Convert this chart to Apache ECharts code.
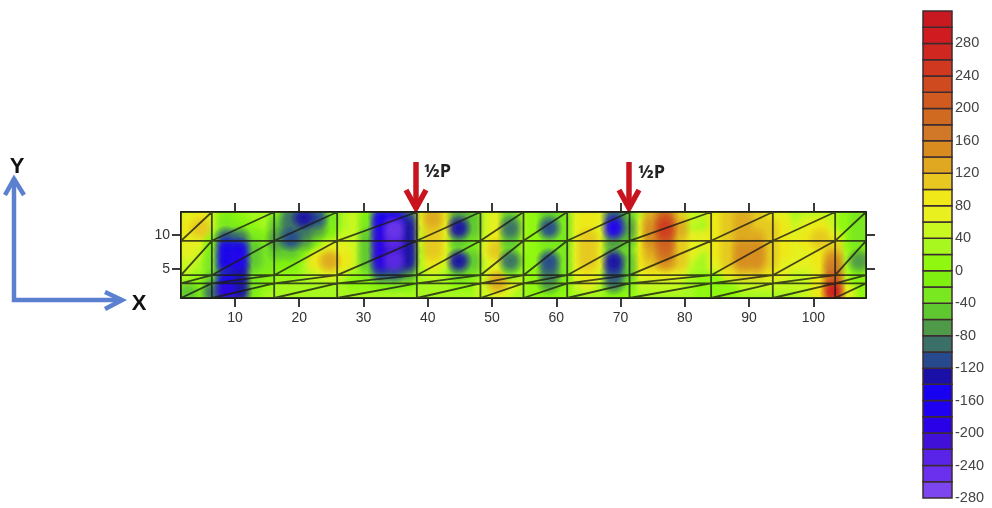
<!DOCTYPE html>
<html><head><meta charset="utf-8">
<style>html,body{margin:0;padding:0;background:#fff}#c{width:992px;height:508px}</style>
<script src="https://cdn.jsdelivr.net/npm/echarts@6/dist/echarts.min.js"></script>
</head><body><div id="c"></div>
<script>
// Field values, read row by row from left to right (one value per 2.01 x-units)
const rowY = [12.6, 11.0, 9.4, 7.8, 6.2, 4.7, 3.1, 1.5];
const row126 = [70,90,40,-20,0,20,30,-40,-100,-125, -110,-40,20,40,-20,-150,-170,-110,60,120, 80,-70,-60,50,60,-60,20,10,-50,-30, 60,80,60,-110,-60,50,130,200,110,50, 40,80,110,120,110,90,70,30,40,50, 40,0,-30];
const row110 = [90,100,50,-30,-10,10,30,-50,-90,-100, -70,-20,30,40,-30,-170,-250,-130,40,110, 60,-130,-60,50,70,-90,20,0,-110,-40, 60,90,50,-170,-80,60,150,240,120,30, 20,80,100,120,110,100,80,50,60,80, 50,0,-40];
const row094 = [70,60,0,-110,-100,-30,-10,-70,-115,-70, -10,20,50,50,-50,-190,-230,-130,40,110, 70,-60,-40,50,90,-50,20,10,-40,-30, 70,110,70,-80,-50,70,150,210,110,70, 60,90,110,130,130,100,80,70,80,100, 60,10,-30];
const row078 = [60,50,-10,-150,-160,-60,-40,-50,-60,-10, 40,70,60,40,-50,-190,-210,-130,30,100, 60,-40,-40,60,100,-40,20,10,-20,-30, 70,110,70,-60,-40,80,130,180,110,60, 40,80,110,150,150,100,80,70,70,90, 110,20,-20];
const row062 = [50,30,-30,-160,-170,-60,-30,-20,-20,30, 90,120,80,40,-60,-200,-230,-140,30,80, 40,-130,-50,50,70,-90,10,0,-110,-30, 70,100,60,-140,-60,80,110,140,100,40, 20,70,100,140,150,100,70,60,60,90, 150,20,-70];
const row047 = [40,20,-40,-120,-130,-40,-10,0,10,30, 50,60,50,30,-40,-110,-120,-80,30,50, 30,-60,-30,40,60,-40,20,10,-100,-30, 70,90,50,-110,-50,70,80,90,70,30, 20,50,80,100,100,80,60,50,50,70, 170,30,-20];
const row031 = [20,10,-50,-160,-130,-30,10,20,20,30, 20,20,20,10,0,-20,-30,-20,20,30, 30,10,10,50,120,60,20,0,-80,-20, 50,70,40,-90,-30,50,50,50,40,20, 10,10,30,50,50,50,40,40,50,80, 200,40,0];
const row015 = [-50,-20,-90,-190,-140,-20,20,30,30,30, 20,20,30,30,30,30,30,30,30,30, 20,20,20,50,60,40,20,10,-10,0, 20,30,20,-10,0,20,30,30,30,20, 0,0,10,20,30,30,30,30,40,90, 280,60,10];
const fieldRows = [row126,row110,row094,row078,row062,row047,row031,row015];

const xTicks = [10,20,30,40,50,60,70,80,90,100];
const yTicks = [5,10];
const xMesh = [1.6,6.4,16.1,25.9,38.3,48.2,54.9,61.7,71.4,84.1,93.7,103.4,108.2];
const yMesh = [0.74,2.9,4.1,9.16,13.4];

const bandMin = -280, bandStep = 20;
const bandColors = ['#7d45f0','#6a30ee','#5a24e8','#4010d8','#2a00e8','#2000f0','#1800f0','#1a10a8','#274a8e','#3a7068',
 '#4f9a48','#5fc830','#7ae820','#80f010','#90f810','#a8f820','#c8f820','#e8f020','#f0e818','#e8c820',
 '#e0a820','#d88c20','#d07828','#d06a20','#d05a20','#d04a20','#d03820','#d02820','#d01c20','#c81820'];

const xStart = 1.6, xStep = 2.01;
function colorOf(v){
  const k = Math.max(0, Math.min(bandColors.length-1, Math.floor((v-bandMin)/bandStep)));
  return bandColors[k];
}
function rgba(hex,a){
  const n=parseInt(hex.slice(1),16);
  return 'rgba('+(n>>16)+','+((n>>8)&255)+','+(n&255)+','+a+')';
}
const cells = [];
fieldRows.forEach((r,j)=>r.forEach((v,i)=>cells.push([xStart+(i+0.5)*xStep, rowY[j], v])));
cells.sort((a,b)=>Math.abs(a[2]-30)-Math.abs(b[2]-30));
const bands = bandColors.map((c,i)=>[bandMin+i*bandStep, bandMin+(i+1)*bandStep]);

const mesh = [];
yMesh.forEach(y=>{mesh.push([xMesh[0],y],[xMesh[xMesh.length-1],y],[null,null]);});
xMesh.forEach(x=>{mesh.push([x,yMesh[0]],[x,yMesh[yMesh.length-1]],[null,null]);});
for(let a=0;a<xMesh.length-1;a++)for(let b=0;b<yMesh.length-1;b++){
  mesh.push([xMesh[a],yMesh[b]],[xMesh[a+1],yMesh[b+1]],[null,null]);
}

const tickStyle = {show:true,length:9,lineStyle:{color:'#3a3a3a',width:2}};
const font = 'Liberation Sans';
const BLUE='#5b80cf', RED='#c8141e';
function redArrow(x){return [
  {type:'line',shape:{x1:x,y1:162,x2:x,y2:204},style:{stroke:RED,lineWidth:5.5}},
  {type:'polyline',shape:{points:[[x-10,190],[x,208],[x+10,190]]},style:{stroke:RED,fill:null,lineWidth:5.5}}
];}
const chart = echarts.init(document.getElementById('c'));
chart.setOption({
  animation:false,backgroundColor:'#fff',
  grid:[{left:181,top:212,width:685,height:86,show:true,backgroundColor:'#90f810',borderWidth:0},{left:923,top:11,width:29,height:487}],
  xAxis:[
    {gridIndex:0,type:'value',min:1.6,max:108.2,position:'bottom',splitLine:{show:false},
     axisLine:{show:true,onZero:false,lineStyle:{color:'#222',width:2}},
     axisTick:{...tickStyle,customValues:xTicks},
     axisLabel:{customValues:xTicks,color:'#333',fontSize:14,fontFamily:font,margin:13}},
    {gridIndex:0,type:'value',min:1.6,max:108.2,position:'top',splitLine:{show:false},
     axisLine:{show:true,onZero:false,lineStyle:{color:'#222',width:2}},
     axisTick:{...tickStyle,customValues:xTicks},axisLabel:{show:false}},
    {gridIndex:1,type:'value',min:0,max:1,show:false}
  ],
  yAxis:[
    {gridIndex:0,type:'value',min:0.74,max:13.4,position:'left',splitLine:{show:false},
     axisLine:{show:true,onZero:false,lineStyle:{color:'#222',width:2}},
     axisTick:{...tickStyle,customValues:yTicks},
     axisLabel:{customValues:yTicks,color:'#333',fontSize:14,fontFamily:font,margin:11}},
    {gridIndex:0,type:'value',min:0.74,max:13.4,position:'right',splitLine:{show:false},
     axisLine:{show:true,onZero:false,lineStyle:{color:'#222',width:2}},
     axisTick:{...tickStyle,customValues:yTicks},axisLabel:{show:false}},
    {gridIndex:1,type:'value',min:-280,max:320,interval:40,position:'right',splitLine:{show:false},
     axisLine:{show:false},axisTick:{show:false},
     axisLabel:{color:'#444',fontSize:14.5,fontFamily:font,margin:3,showMaxLabel:false,padding:[2,0,0,0],
       formatter:v=>v===320?'':String(v)}}
  ],
  series:[
    {type:'custom',xAxisIndex:0,yAxisIndex:0,clip:true,silent:true,z:1,data:cells,
     encode:{x:0,y:1},
     renderItem:(p,api)=>{
       const c=api.coord([api.value(0),api.value(1)]);
       const col=colorOf(api.value(2));
       const r=14;
       return {type:'rect',shape:{x:c[0]-r,y:c[1]-r,width:2*r,height:2*r},
         style:{fill:new echarts.graphic.RadialGradient(0.5,0.5,0.5,[
           {offset:0,color:rgba(col,1)},{offset:0.4,color:rgba(col,0.85)},{offset:1,color:rgba(col,0)}])}};
     }},
    {type:'line',xAxisIndex:0,yAxisIndex:0,z:3,silent:true,showSymbol:false,symbol:'none',connectNulls:false,
     data:mesh,lineStyle:{color:'#1c1c14',width:1.8,opacity:0.8}},
    {type:'custom',xAxisIndex:2,yAxisIndex:2,silent:true,z:2,data:bands,encode:{y:[0,1]},
     renderItem:(p,api)=>{
       const a=api.coord([0,api.value(1)]),b=api.coord([1,api.value(0)]);
       return {type:'rect',shape:{x:a[0],y:a[1],width:b[0]-a[0],height:b[1]-a[1]},
         style:{fill:bandColors[p.dataIndex],stroke:'#3c2c30',lineWidth:1.5}};
     }}
  ],
  graphic:[
    {type:'polyline',shape:{points:[[14,178],[14,300],[122,300]]},style:{stroke:BLUE,fill:null,lineWidth:4.5}},
    {type:'polyline',shape:{points:[[5,195],[14,179],[24,195]]},style:{stroke:BLUE,fill:null,lineWidth:4.5}},
    {type:'polyline',shape:{points:[[105,292],[122,300],[105,309]]},style:{stroke:BLUE,fill:null,lineWidth:4.5}},
    {type:'text',style:{text:'Y',x:17,y:167,align:'center',verticalAlign:'middle',font:'bold 22px "Liberation Sans"',fill:'#111'}},
    {type:'text',style:{text:'X',x:139,y:304,align:'center',verticalAlign:'middle',font:'bold 22px "Liberation Sans"',fill:'#111'}},
    ...redArrow(416),...redArrow(629),
    {type:'text',style:{text:'½P',x:424,y:172,align:'left',verticalAlign:'middle',font:'bold 18px "Open Sans"',fill:'#222'}},
    {type:'text',style:{text:'½P',x:638,y:173,align:'left',verticalAlign:'middle',font:'bold 18px "Open Sans"',fill:'#222'}}
  ]
});
</script></body></html>
